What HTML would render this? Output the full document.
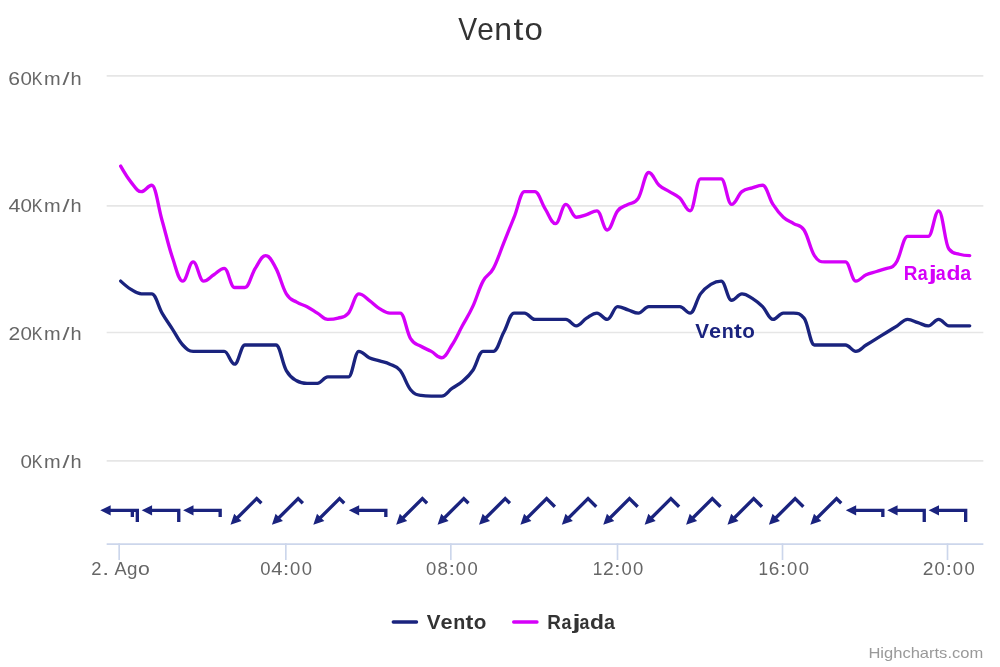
<!DOCTYPE html>
<html><head><meta charset="utf-8"><title>Vento</title>
<style>
html,body{margin:0;padding:0;background:#ffffff;}
body{width:1000px;height:667px;overflow:hidden;font-family:"Liberation Sans",sans-serif;}
svg{display:block;will-change:transform;font-family:"Liberation Sans",sans-serif;}
</style></head><body>
<svg width="1000" height="667" viewBox="0 0 1000 667">
<rect x="0" y="0" width="1000" height="667" fill="#ffffff"/>
<g transform="scale(1.6666667)">
<g fill="none" stroke="#e6e6e6" stroke-width="1">
<path d="M 64 276.5 L 590 276.5"/>
<path d="M 64 199.5 L 590 199.5"/>
<path d="M 64 123.5 L 590 123.5"/>
<path d="M 64 45.5 L 590 45.5"/>
</g>
<g fill="none" stroke="#ccd6eb" stroke-width="1">
<path d="M 64 326.5 L 590 326.5"/>
<path d="M 71.5 326 L 71.5 336"/>
<path d="M 171.5 326 L 171.5 336"/>
<path d="M 270.5 326 L 270.5 336"/>
<path d="M 370.5 326 L 370.5 336"/>
<path d="M 469.5 326 L 469.5 336"/>
<path d="M 568.5 326 L 568.5 336"/>
</g>
<path d="M 72.40 168.66 C 72.40 168.66 76.13 172.11 78.61 173.65 C 81.10 175.18 82.34 176.33 84.83 176.33 C 87.31 176.33 88.55 176.33 91.04 176.33 C 93.52 176.33 94.77 183.62 97.25 187.83 C 99.73 192.05 100.98 193.58 103.46 197.42 C 105.95 201.25 107.19 204.32 109.68 207.00 C 112.16 209.68 113.40 210.83 115.89 210.83 C 118.37 210.83 119.62 210.83 122.10 210.83 C 124.58 210.83 125.83 210.83 128.31 210.83 C 130.80 210.83 132.04 210.83 134.53 210.83 C 137.01 210.83 138.25 218.50 140.74 218.50 C 143.22 218.50 144.47 207.00 146.95 207.00 C 149.44 207.00 150.68 207.00 153.16 207.00 C 155.65 207.00 156.89 207.00 159.38 207.00 C 161.86 207.00 163.10 207.00 165.59 207.00 C 168.07 207.00 169.31 218.04 171.80 222.33 C 174.29 226.63 175.53 226.93 178.01 228.47 C 180.50 230.00 181.74 230.00 184.23 230.00 C 186.71 230.00 187.95 230.00 190.44 230.00 C 192.92 230.00 194.17 226.17 196.65 226.17 C 199.14 226.17 200.38 226.17 202.86 226.17 C 205.35 226.17 206.59 226.17 209.08 226.17 C 211.56 226.17 212.80 210.83 215.29 210.83 C 217.77 210.83 219.02 213.52 221.50 214.67 C 223.99 215.82 225.23 215.82 227.71 216.58 C 230.20 217.35 231.44 217.35 233.93 218.50 C 236.41 219.65 237.65 219.27 240.14 222.33 C 242.62 225.40 243.87 230.84 246.35 233.83 C 248.84 236.82 250.08 236.90 252.56 237.28 C 255.05 237.67 256.29 237.67 258.77 237.67 C 261.26 237.67 262.50 237.67 264.99 237.67 C 267.47 237.67 268.72 234.83 271.20 233.07 C 273.69 231.30 274.93 231.00 277.41 228.85 C 279.90 226.70 281.14 225.94 283.62 222.33 C 286.11 218.73 287.35 210.83 289.84 210.83 C 292.32 210.83 293.56 210.83 296.05 210.83 C 298.54 210.83 299.78 203.93 302.26 199.33 C 304.75 194.73 305.99 187.83 308.48 187.83 C 310.96 187.83 312.20 187.83 314.69 187.83 C 317.17 187.83 318.41 191.67 320.90 191.67 C 323.38 191.67 324.63 191.67 327.11 191.67 C 329.60 191.67 330.84 191.67 333.33 191.67 C 335.81 191.67 337.05 191.67 339.54 191.67 C 342.02 191.67 343.26 195.50 345.75 195.50 C 348.24 195.50 349.48 192.43 351.96 190.90 C 354.45 189.37 355.69 187.83 358.18 187.83 C 360.66 187.83 361.90 191.67 364.39 191.67 C 366.87 191.67 368.12 184.00 370.60 184.00 C 373.09 184.00 374.33 185.15 376.81 185.92 C 379.30 186.68 380.54 187.83 383.02 187.83 C 385.51 187.83 386.75 184.00 389.24 184.00 C 391.72 184.00 392.97 184.00 395.45 184.00 C 397.94 184.00 399.18 184.00 401.66 184.00 C 404.15 184.00 405.39 184.00 407.88 184.00 C 410.36 184.00 411.60 187.83 414.09 187.83 C 416.57 187.83 417.81 179.78 420.30 176.33 C 422.79 172.88 424.03 172.11 426.51 170.58 C 429.00 169.05 430.24 168.66 432.73 168.66 C 435.21 168.66 436.45 180.16 438.94 180.16 C 441.42 180.16 442.66 176.33 445.15 176.33 C 447.64 176.33 448.88 177.48 451.36 179.01 C 453.85 180.55 455.09 181.47 457.58 184.00 C 460.06 186.53 461.30 191.67 463.79 191.67 C 466.27 191.67 467.51 187.83 470.00 187.83 C 472.49 187.83 473.73 187.83 476.21 187.83 C 478.70 187.83 479.94 187.83 482.43 190.90 C 484.91 193.97 486.15 207.00 488.64 207.00 C 491.12 207.00 492.37 207.00 494.85 207.00 C 497.34 207.00 498.58 207.00 501.06 207.00 C 503.55 207.00 504.79 207.00 507.27 207.00 C 509.76 207.00 511.00 210.83 513.49 210.83 C 515.97 210.83 517.22 208.53 519.70 207.00 C 522.19 205.47 523.43 204.70 525.91 203.17 C 528.40 201.63 529.64 200.87 532.12 199.33 C 534.61 197.80 535.85 197.03 538.34 195.50 C 540.82 193.97 542.06 191.67 544.55 191.67 C 547.04 191.67 548.28 192.82 550.76 193.58 C 553.25 194.35 554.49 195.50 556.98 195.50 C 559.46 195.50 560.70 191.67 563.19 191.67 C 565.67 191.67 566.91 195.50 569.40 195.50 C 571.88 195.50 573.13 195.50 575.61 195.50 C 578.10 195.50 581.83 195.50 581.83 195.50" fill="none" stroke="#1a237e" stroke-width="2" stroke-linejoin="round" stroke-linecap="round"/>
<path d="M 72.40 99.66 C 72.40 99.66 76.13 106.18 78.61 109.25 C 81.10 112.31 82.34 115.00 84.83 115.00 C 87.31 115.00 88.55 111.16 91.04 111.16 C 93.52 111.16 94.77 123.58 97.25 132.25 C 99.73 140.91 100.98 147.20 103.46 154.48 C 105.95 161.76 107.19 168.66 109.68 168.66 C 112.16 168.66 113.40 157.16 115.89 157.16 C 118.37 157.16 119.62 168.66 122.10 168.66 C 124.58 168.66 125.83 166.36 128.31 164.83 C 130.80 163.30 132.04 161.00 134.53 161.00 C 137.01 161.00 138.25 172.50 140.74 172.50 C 143.22 172.50 144.47 172.50 146.95 172.50 C 149.44 172.50 150.68 164.83 153.16 161.00 C 155.65 157.16 156.89 153.33 159.38 153.33 C 161.86 153.33 163.10 156.40 165.59 161.00 C 168.07 165.60 169.31 172.27 171.80 176.33 C 174.29 180.40 175.53 179.78 178.01 181.32 C 180.50 182.85 181.74 182.70 184.23 184.00 C 186.71 185.30 187.95 186.30 190.44 187.83 C 192.92 189.37 194.17 191.67 196.65 191.67 C 199.14 191.67 200.38 191.67 202.86 190.90 C 205.35 190.13 206.59 190.75 209.08 187.83 C 211.56 184.92 212.80 176.33 215.29 176.33 C 217.77 176.33 219.02 178.40 221.50 180.16 C 223.99 181.93 225.23 183.62 227.71 185.15 C 230.20 186.68 231.44 187.83 233.93 187.83 C 236.41 187.83 237.65 187.83 240.14 187.83 C 242.62 187.83 243.87 199.18 246.35 203.17 C 248.84 207.15 250.08 206.23 252.56 207.77 C 255.05 209.30 256.29 209.45 258.77 210.83 C 261.26 212.21 262.50 214.67 264.99 214.67 C 267.47 214.67 268.72 210.83 271.20 207.00 C 273.69 203.17 274.93 200.10 277.41 195.50 C 279.90 190.90 281.14 189.37 283.62 184.00 C 286.11 178.63 287.35 173.26 289.84 168.66 C 292.32 164.06 293.56 165.60 296.05 161.00 C 298.54 156.40 299.78 151.80 302.26 145.66 C 304.75 139.53 305.99 136.46 308.48 130.33 C 310.96 124.20 312.20 115.00 314.69 115.00 C 317.17 115.00 318.41 115.00 320.90 115.00 C 323.38 115.00 324.63 121.51 327.11 125.35 C 329.60 129.18 330.84 134.16 333.33 134.16 C 335.81 134.16 337.05 122.66 339.54 122.66 C 342.02 122.66 343.26 130.33 345.75 130.33 C 348.24 130.33 349.48 129.56 351.96 128.80 C 354.45 128.03 355.69 126.50 358.18 126.50 C 360.66 126.50 361.90 138.00 364.39 138.00 C 366.87 138.00 368.12 129.56 370.60 126.50 C 373.09 123.43 374.33 124.20 376.81 122.66 C 379.30 121.13 380.54 122.66 383.02 118.83 C 385.51 115.00 386.75 103.50 389.24 103.50 C 391.72 103.50 392.97 108.86 395.45 111.16 C 397.94 113.46 399.18 113.46 401.66 115.00 C 404.15 116.53 405.39 116.53 407.88 118.83 C 410.36 121.13 411.60 126.50 414.09 126.50 C 416.57 126.50 417.81 107.33 420.30 107.33 C 422.79 107.33 424.03 107.33 426.51 107.33 C 429.00 107.33 430.24 107.33 432.73 107.33 C 435.21 107.33 436.45 122.66 438.94 122.66 C 441.42 122.66 442.66 116.99 445.15 115.00 C 447.64 113.00 448.88 113.46 451.36 112.70 C 453.85 111.93 455.09 111.16 457.58 111.16 C 460.06 111.16 461.30 118.83 463.79 122.66 C 466.27 126.50 467.51 128.03 470.00 130.33 C 472.49 132.63 473.73 132.63 476.21 134.16 C 478.70 135.70 479.94 134.16 482.43 138.00 C 484.91 141.83 486.15 149.50 488.64 153.33 C 491.12 157.16 492.37 157.16 494.85 157.16 C 497.34 157.16 498.58 157.16 501.06 157.16 C 503.55 157.16 504.79 157.16 507.27 157.16 C 509.76 157.16 511.00 168.66 513.49 168.66 C 515.97 168.66 517.22 165.98 519.70 164.83 C 522.19 163.68 523.43 163.68 525.91 162.91 C 528.40 162.15 529.64 161.74 532.12 161.00 C 533.49 160.59 534.18 161.00 535.54 160.04 C 536.66 159.08 537.22 158.66 538.34 156.40 C 540.82 151.37 542.06 141.83 544.55 141.83 C 547.04 141.83 548.28 141.83 550.76 141.83 C 553.25 141.83 554.49 141.83 556.98 141.83 C 559.46 141.83 560.70 126.50 563.19 126.50 C 565.67 126.50 566.91 146.43 569.40 149.50 C 571.88 152.56 573.13 151.80 575.61 152.56 C 578.10 153.33 581.83 153.33 581.83 153.33" fill="none" stroke="#d500f9" stroke-width="2" stroke-linejoin="round" stroke-linecap="round"/>
<g fill="none" stroke="#1a237e" stroke-width="2">
<path d="M 0 7 L -1.5 7 0 10 1.5 7 0 7 0 -10 L 0 -10 L 7 -10 M 0 -7 L 4 -7" transform="translate(72.40,306.20) rotate(90)"/>
<path d="M 0 7 L -1.5 7 0 10 1.5 7 0 7 0 -10 L 0 -10 L 7 -10" transform="translate(97.25,306.20) rotate(90)"/>
<path d="M 0 7 L -1.5 7 0 10 1.5 7 0 7 0 -10 L 0 -10 L 4 -10" transform="translate(122.10,306.20) rotate(90)"/>
<path d="M 0 7 L -1.5 7 0 10 1.5 7 0 7 0 -10 L 0 -10 L 4 -10" transform="translate(146.95,306.20) rotate(45)"/>
<path d="M 0 7 L -1.5 7 0 10 1.5 7 0 7 0 -10 L 0 -10 L 4 -10" transform="translate(171.80,306.20) rotate(45)"/>
<path d="M 0 7 L -1.5 7 0 10 1.5 7 0 7 0 -10 L 0 -10 L 4 -10" transform="translate(196.65,306.20) rotate(45)"/>
<path d="M 0 7 L -1.5 7 0 10 1.5 7 0 7 0 -10 L 0 -10 L 4 -10" transform="translate(221.50,306.20) rotate(90)"/>
<path d="M 0 7 L -1.5 7 0 10 1.5 7 0 7 0 -10 L 0 -10 L 4 -10" transform="translate(246.35,306.20) rotate(45)"/>
<path d="M 0 7 L -1.5 7 0 10 1.5 7 0 7 0 -10 L 0 -10 L 4 -10" transform="translate(271.20,306.20) rotate(45)"/>
<path d="M 0 7 L -1.5 7 0 10 1.5 7 0 7 0 -10 L 0 -10 L 4 -10" transform="translate(296.05,306.20) rotate(45)"/>
<path d="M 0 7 L -1.5 7 0 10 1.5 7 0 7 0 -10 L 0 -10 L 7 -10" transform="translate(320.90,306.20) rotate(45)"/>
<path d="M 0 7 L -1.5 7 0 10 1.5 7 0 7 0 -10 L 0 -10 L 7 -10" transform="translate(345.75,306.20) rotate(45)"/>
<path d="M 0 7 L -1.5 7 0 10 1.5 7 0 7 0 -10 L 0 -10 L 7 -10" transform="translate(370.60,306.20) rotate(45)"/>
<path d="M 0 7 L -1.5 7 0 10 1.5 7 0 7 0 -10 L 0 -10 L 7 -10" transform="translate(395.45,306.20) rotate(45)"/>
<path d="M 0 7 L -1.5 7 0 10 1.5 7 0 7 0 -10 L 0 -10 L 7 -10" transform="translate(420.30,306.20) rotate(45)"/>
<path d="M 0 7 L -1.5 7 0 10 1.5 7 0 7 0 -10 L 0 -10 L 7 -10" transform="translate(445.15,306.20) rotate(45)"/>
<path d="M 0 7 L -1.5 7 0 10 1.5 7 0 7 0 -10 L 0 -10 L 7 -10" transform="translate(470.00,306.20) rotate(45)"/>
<path d="M 0 7 L -1.5 7 0 10 1.5 7 0 7 0 -10 L 0 -10 L 4 -10" transform="translate(494.85,306.20) rotate(45)"/>
<path d="M 0 7 L -1.5 7 0 10 1.5 7 0 7 0 -10 L 0 -10 L 4 -10" transform="translate(519.70,306.20) rotate(90)"/>
<path d="M 0 7 L -1.5 7 0 10 1.5 7 0 7 0 -10 L 0 -10 L 7 -10" transform="translate(544.55,306.20) rotate(90)"/>
<path d="M 0 7 L -1.5 7 0 10 1.5 7 0 7 0 -10 L 0 -10 L 7 -10" transform="translate(569.40,306.20) rotate(90)"/>
</g>
<path d="M 235.96 373.2 L 249.92 373.2" stroke="#1a237e" stroke-width="2" stroke-linecap="round" fill="none"/>
<path d="M 308.2 373.2 L 322.2 373.2" stroke="#d500f9" stroke-width="2" stroke-linecap="round" fill="none"/>
</g>
<g>
<text x="458.31" y="39.60" font-size="32px" fill="#333333" font-weight="normal" textLength="18.89" lengthAdjust="spacingAndGlyphs">V</text>
<text x="477.21" y="39.60" font-size="32px" fill="#333333" font-weight="normal" textLength="16.57" lengthAdjust="spacingAndGlyphs">e</text>
<text x="494.37" y="39.60" font-size="32px" fill="#333333" font-weight="normal" textLength="17.74" lengthAdjust="spacingAndGlyphs">n</text>
<text x="513.41" y="39.60" font-size="32px" fill="#333333" font-weight="normal" textLength="9.87" lengthAdjust="spacingAndGlyphs">t</text>
<text x="524.57" y="39.60" font-size="32px" fill="#333333" font-weight="normal" textLength="18.34" lengthAdjust="spacingAndGlyphs">o</text>
<text x="20.58" y="468.20" font-size="18.33px" fill="#666666" font-weight="normal" textLength="11.44" lengthAdjust="spacingAndGlyphs">0</text>
<text x="31.65" y="468.20" font-size="18.33px" fill="#666666" font-weight="normal" textLength="10.77" lengthAdjust="spacingAndGlyphs">K</text>
<text x="44.07" y="468.20" font-size="18.33px" fill="#666666" font-weight="normal" textLength="16.66" lengthAdjust="spacingAndGlyphs">m</text>
<text x="62.40" y="468.20" font-size="18.33px" fill="#666666" font-weight="normal" textLength="7.03" lengthAdjust="spacingAndGlyphs">/</text>
<text x="70.40" y="468.20" font-size="18.33px" fill="#666666" font-weight="normal" textLength="11.12" lengthAdjust="spacingAndGlyphs">h</text>
<text x="8.55" y="339.60" font-size="18.33px" fill="#666666" font-weight="normal" textLength="11.69" lengthAdjust="spacingAndGlyphs">2</text>
<text x="20.58" y="339.60" font-size="18.33px" fill="#666666" font-weight="normal" textLength="11.44" lengthAdjust="spacingAndGlyphs">0</text>
<text x="31.65" y="339.60" font-size="18.33px" fill="#666666" font-weight="normal" textLength="10.77" lengthAdjust="spacingAndGlyphs">K</text>
<text x="44.07" y="339.60" font-size="18.33px" fill="#666666" font-weight="normal" textLength="16.66" lengthAdjust="spacingAndGlyphs">m</text>
<text x="62.40" y="339.60" font-size="18.33px" fill="#666666" font-weight="normal" textLength="7.03" lengthAdjust="spacingAndGlyphs">/</text>
<text x="70.40" y="339.60" font-size="18.33px" fill="#666666" font-weight="normal" textLength="11.12" lengthAdjust="spacingAndGlyphs">h</text>
<text x="8.50" y="211.80" font-size="18.33px" fill="#666666" font-weight="normal" textLength="11.93" lengthAdjust="spacingAndGlyphs">4</text>
<text x="20.58" y="211.80" font-size="18.33px" fill="#666666" font-weight="normal" textLength="11.44" lengthAdjust="spacingAndGlyphs">0</text>
<text x="31.65" y="211.80" font-size="18.33px" fill="#666666" font-weight="normal" textLength="10.77" lengthAdjust="spacingAndGlyphs">K</text>
<text x="44.07" y="211.80" font-size="18.33px" fill="#666666" font-weight="normal" textLength="16.66" lengthAdjust="spacingAndGlyphs">m</text>
<text x="62.40" y="211.80" font-size="18.33px" fill="#666666" font-weight="normal" textLength="7.03" lengthAdjust="spacingAndGlyphs">/</text>
<text x="70.40" y="211.80" font-size="18.33px" fill="#666666" font-weight="normal" textLength="11.12" lengthAdjust="spacingAndGlyphs">h</text>
<text x="8.34" y="84.60" font-size="18.33px" fill="#666666" font-weight="normal" textLength="11.76" lengthAdjust="spacingAndGlyphs">6</text>
<text x="20.58" y="84.60" font-size="18.33px" fill="#666666" font-weight="normal" textLength="11.44" lengthAdjust="spacingAndGlyphs">0</text>
<text x="31.65" y="84.60" font-size="18.33px" fill="#666666" font-weight="normal" textLength="10.77" lengthAdjust="spacingAndGlyphs">K</text>
<text x="44.07" y="84.60" font-size="18.33px" fill="#666666" font-weight="normal" textLength="16.66" lengthAdjust="spacingAndGlyphs">m</text>
<text x="62.40" y="84.60" font-size="18.33px" fill="#666666" font-weight="normal" textLength="7.03" lengthAdjust="spacingAndGlyphs">/</text>
<text x="70.40" y="84.60" font-size="18.33px" fill="#666666" font-weight="normal" textLength="11.12" lengthAdjust="spacingAndGlyphs">h</text>
<text x="91.28" y="575.00" font-size="18.33px" fill="#666666" font-weight="normal" textLength="10.23" lengthAdjust="spacingAndGlyphs">2</text>
<text x="102.37" y="575.00" font-size="18.33px" fill="#666666" font-weight="normal" textLength="6.90" lengthAdjust="spacingAndGlyphs">.</text>
<text x="114.54" y="575.00" font-size="18.33px" fill="#666666" font-weight="normal" textLength="12.13" lengthAdjust="spacingAndGlyphs">A</text>
<text x="126.99" y="575.00" font-size="18.33px" fill="#666666" font-weight="normal" textLength="10.46" lengthAdjust="spacingAndGlyphs">g</text>
<text x="138.08" y="575.00" font-size="18.33px" fill="#666666" font-weight="normal" textLength="11.83" lengthAdjust="spacingAndGlyphs">o</text>
<text x="260.29" y="575.00" font-size="18.33px" fill="#666666" font-weight="normal" textLength="10.27" lengthAdjust="spacingAndGlyphs">0</text>
<text x="271.36" y="575.00" font-size="18.33px" fill="#666666" font-weight="normal" textLength="11.27" lengthAdjust="spacingAndGlyphs">4</text>
<text x="282.79" y="575.00" font-size="18.33px" fill="#666666" font-weight="normal" textLength="6.61" lengthAdjust="spacingAndGlyphs">:</text>
<text x="290.09" y="575.00" font-size="18.33px" fill="#666666" font-weight="normal" textLength="10.27" lengthAdjust="spacingAndGlyphs">0</text>
<text x="301.79" y="575.00" font-size="18.33px" fill="#666666" font-weight="normal" textLength="10.27" lengthAdjust="spacingAndGlyphs">0</text>
<text x="425.96" y="575.00" font-size="18.33px" fill="#666666" font-weight="normal" textLength="10.27" lengthAdjust="spacingAndGlyphs">0</text>
<text x="437.49" y="575.00" font-size="18.33px" fill="#666666" font-weight="normal" textLength="10.41" lengthAdjust="spacingAndGlyphs">8</text>
<text x="448.46" y="575.00" font-size="18.33px" fill="#666666" font-weight="normal" textLength="6.61" lengthAdjust="spacingAndGlyphs">:</text>
<text x="455.76" y="575.00" font-size="18.33px" fill="#666666" font-weight="normal" textLength="10.27" lengthAdjust="spacingAndGlyphs">0</text>
<text x="467.46" y="575.00" font-size="18.33px" fill="#666666" font-weight="normal" textLength="10.27" lengthAdjust="spacingAndGlyphs">0</text>
<text x="592.85" y="575.00" font-size="18.33px" fill="#666666" font-weight="normal" textLength="9.57" lengthAdjust="spacingAndGlyphs">1</text>
<text x="603.00" y="575.00" font-size="18.33px" fill="#666666" font-weight="normal" textLength="10.72" lengthAdjust="spacingAndGlyphs">2</text>
<text x="614.13" y="575.00" font-size="18.33px" fill="#666666" font-weight="normal" textLength="6.61" lengthAdjust="spacingAndGlyphs">:</text>
<text x="621.43" y="575.00" font-size="18.33px" fill="#666666" font-weight="normal" textLength="10.27" lengthAdjust="spacingAndGlyphs">0</text>
<text x="633.13" y="575.00" font-size="18.33px" fill="#666666" font-weight="normal" textLength="10.27" lengthAdjust="spacingAndGlyphs">0</text>
<text x="758.51" y="575.00" font-size="18.33px" fill="#666666" font-weight="normal" textLength="9.57" lengthAdjust="spacingAndGlyphs">1</text>
<text x="768.68" y="575.00" font-size="18.33px" fill="#666666" font-weight="normal" textLength="10.56" lengthAdjust="spacingAndGlyphs">6</text>
<text x="779.79" y="575.00" font-size="18.33px" fill="#666666" font-weight="normal" textLength="6.61" lengthAdjust="spacingAndGlyphs">:</text>
<text x="787.09" y="575.00" font-size="18.33px" fill="#666666" font-weight="normal" textLength="10.27" lengthAdjust="spacingAndGlyphs">0</text>
<text x="798.79" y="575.00" font-size="18.33px" fill="#666666" font-weight="normal" textLength="10.27" lengthAdjust="spacingAndGlyphs">0</text>
<text x="922.74" y="575.00" font-size="18.33px" fill="#666666" font-weight="normal" textLength="10.72" lengthAdjust="spacingAndGlyphs">2</text>
<text x="934.56" y="575.00" font-size="18.33px" fill="#666666" font-weight="normal" textLength="10.27" lengthAdjust="spacingAndGlyphs">0</text>
<text x="945.46" y="575.00" font-size="18.33px" fill="#666666" font-weight="normal" textLength="6.61" lengthAdjust="spacingAndGlyphs">:</text>
<text x="952.76" y="575.00" font-size="18.33px" fill="#666666" font-weight="normal" textLength="10.27" lengthAdjust="spacingAndGlyphs">0</text>
<text x="964.46" y="575.00" font-size="18.33px" fill="#666666" font-weight="normal" textLength="10.27" lengthAdjust="spacingAndGlyphs">0</text>
<text x="426.86" y="628.90" font-size="20px" fill="#333333" font-weight="bold" textLength="13.78" lengthAdjust="spacingAndGlyphs">V</text>
<text x="440.63" y="628.90" font-size="20px" fill="#333333" font-weight="bold" textLength="12.08" lengthAdjust="spacingAndGlyphs">e</text>
<text x="453.19" y="628.90" font-size="20px" fill="#333333" font-weight="bold" textLength="12.01" lengthAdjust="spacingAndGlyphs">n</text>
<text x="465.49" y="628.90" font-size="20px" fill="#333333" font-weight="bold" textLength="7.82" lengthAdjust="spacingAndGlyphs">t</text>
<text x="473.68" y="628.90" font-size="20px" fill="#333333" font-weight="bold" textLength="12.60" lengthAdjust="spacingAndGlyphs">o</text>
<text x="547.24" y="628.90" font-size="20px" fill="#333333" font-weight="bold" textLength="13.68" lengthAdjust="spacingAndGlyphs">R</text>
<text x="561.47" y="628.90" font-size="20px" fill="#333333" font-weight="bold" textLength="9.91" lengthAdjust="spacingAndGlyphs">a</text>
<text x="572.49" y="628.90" font-size="20px" fill="#333333" font-weight="bold" textLength="8.09" lengthAdjust="spacingAndGlyphs">j</text>
<text x="579.47" y="628.90" font-size="20px" fill="#333333" font-weight="bold" textLength="9.91" lengthAdjust="spacingAndGlyphs">a</text>
<text x="590.09" y="628.90" font-size="20px" fill="#333333" font-weight="bold" textLength="13.96" lengthAdjust="spacingAndGlyphs">d</text>
<text x="603.91" y="628.90" font-size="20px" fill="#333333" font-weight="bold" textLength="10.95" lengthAdjust="spacingAndGlyphs">a</text>
<text x="695.36" y="338.40" font-size="20px" fill="#1a237e" font-weight="bold" textLength="13.78" lengthAdjust="spacingAndGlyphs">V</text>
<text x="709.13" y="338.40" font-size="20px" fill="#1a237e" font-weight="bold" textLength="12.08" lengthAdjust="spacingAndGlyphs">e</text>
<text x="721.69" y="338.40" font-size="20px" fill="#1a237e" font-weight="bold" textLength="12.01" lengthAdjust="spacingAndGlyphs">n</text>
<text x="733.99" y="338.40" font-size="20px" fill="#1a237e" font-weight="bold" textLength="7.82" lengthAdjust="spacingAndGlyphs">t</text>
<text x="742.17" y="338.40" font-size="20px" fill="#1a237e" font-weight="bold" textLength="12.60" lengthAdjust="spacingAndGlyphs">o</text>
<text x="903.64" y="279.80" font-size="20px" fill="#d500f9" font-weight="bold" textLength="13.68" lengthAdjust="spacingAndGlyphs">R</text>
<text x="917.87" y="279.80" font-size="20px" fill="#d500f9" font-weight="bold" textLength="9.91" lengthAdjust="spacingAndGlyphs">a</text>
<text x="928.89" y="279.80" font-size="20px" fill="#d500f9" font-weight="bold" textLength="8.09" lengthAdjust="spacingAndGlyphs">j</text>
<text x="935.87" y="279.80" font-size="20px" fill="#d500f9" font-weight="bold" textLength="9.91" lengthAdjust="spacingAndGlyphs">a</text>
<text x="946.49" y="279.80" font-size="20px" fill="#d500f9" font-weight="bold" textLength="13.96" lengthAdjust="spacingAndGlyphs">d</text>
<text x="960.31" y="279.80" font-size="20px" fill="#d500f9" font-weight="bold" textLength="10.95" lengthAdjust="spacingAndGlyphs">a</text>
<text x="983.20" y="658.40" font-size="15px" fill="#999999" text-anchor="end" font-weight="normal" textLength="114.8" lengthAdjust="spacingAndGlyphs">Highcharts.com</text>
</g>
</svg>
</body></html>
